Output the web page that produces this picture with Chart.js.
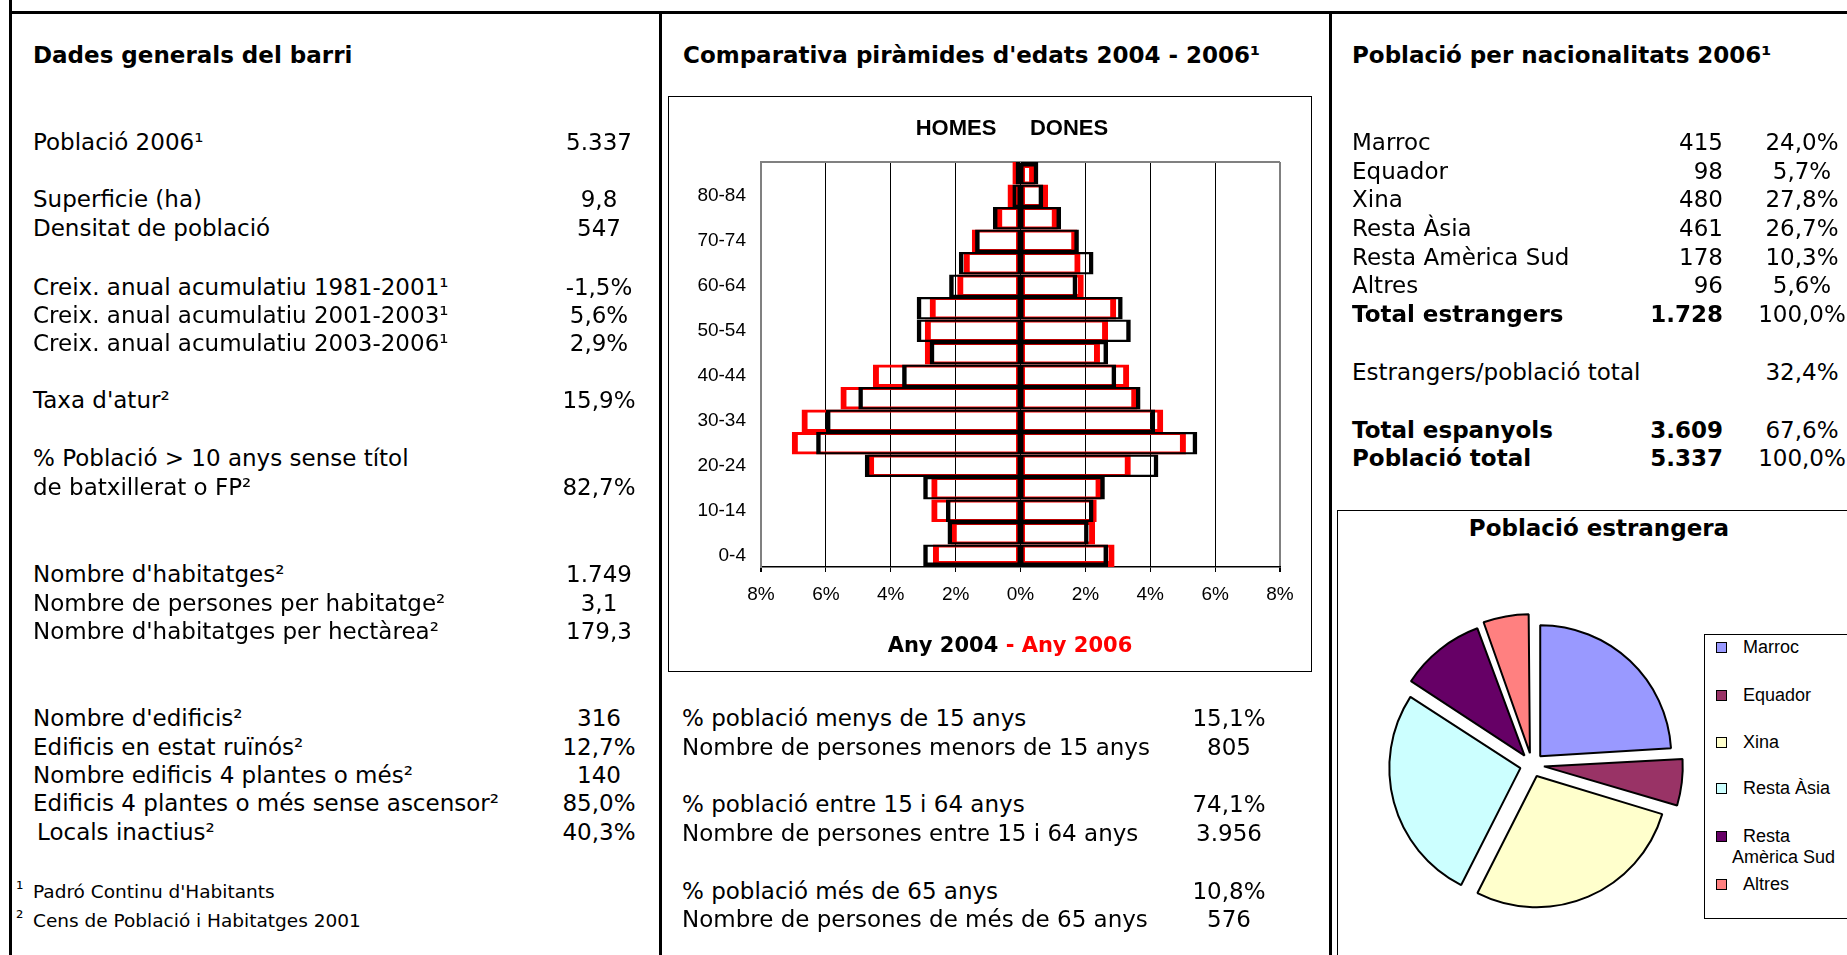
<!DOCTYPE html>
<html>
<head>
<meta charset="utf-8">
<script src="https://cdn.jsdelivr.net/npm/chart.js"></script>
<style>
body { margin:0; width:1847px; height:955px; overflow:hidden; background:#fff; position:relative;
  font-family:"DejaVu Sans", Verdana, sans-serif; font-size:23px; color:#000; }
.ln { position:absolute; background:#000; }
.t { position:absolute; white-space:nowrap; line-height:30px; height:30px; }
.b { font-weight:bold; }
.sm { font-size:18.5px; }
.ar { font-family:"Liberation Sans", Arial, sans-serif; }
.box { position:absolute; border:1px solid #000; background:#fff; box-sizing:border-box; }
canvas { position:absolute; }
</style>
</head>
<body>
<div class="ln" style="left:9px;top:0;width:3px;height:955px"></div>
<div class="ln" style="left:9px;top:11px;width:1838px;height:3px"></div>
<div class="ln" style="left:659px;top:11px;width:3px;height:944px"></div>
<div class="ln" style="left:1329px;top:11px;width:3px;height:944px"></div>

<div class="box" style="left:668px;top:96px;width:644px;height:576px"></div>
<canvas id="pyramid" width="641" height="573" style="left:669px;top:97px"></canvas>

<div class="box" style="left:1337px;top:510px;width:600px;height:500px"></div>
<canvas id="pie" width="320" height="320" style="left:1372px;top:605px"></canvas>
<div class="box" style="left:1704px;top:634px;width:200px;height:285px"></div>

<script>
// Dades generals del barri
var genLabels = ['Població 2006¹', 'Superficie (ha)', 'Densitat de població',
  'Creix. anual acumulatiu 1981-2001¹', 'Creix. anual acumulatiu 2001-2003¹', 'Creix. anual acumulatiu 2003-2006¹',
  "Taxa d'atur²", '% Població > 10 anys sense títol', 'de batxillerat o FP²',
  "Nombre d'habitatges²", 'Nombre de persones per habitatge²', "Nombre d'habitatges per hectàrea²",
  "Nombre d'edificis²", 'Edificis en estat ruïnós²', 'Nombre edificis 4 plantes o més²',
  'Edificis 4 plantes o més sense ascensor²', 'Locals inactius²'];
var genValues = ['5.337', '9,8', '547', '-1,5%', '5,6%', '2,9%', '15,9%', '', '82,7%',
  '1.749', '3,1', '179,3', '316', '12,7%', '140', '85,0%', '40,3%'];
var genY = [142, 199, 228, 287, 315, 343, 400, 458, 487, 574, 603, 631, 718, 747, 775, 803, 832];

// piramide d'edats (% de la poblacio)
var ages = ['0-4','5-9','10-14','15-19','20-24','25-29','30-34','35-39','40-44',
  '45-49','50-54','55-59','60-64','65-69','70-74','75-79','80-84','85+'];
var homes2004 = [3.0, 2.25, 2.3, 3.0, 4.8, 6.3, 6.0, 5.0, 3.65, 2.8, 3.2, 3.2, 2.2, 1.9, 1.4, 0.85, 0.25, 0.15];
var dones2004 = [2.7, 2.1, 2.25, 2.6, 4.25, 5.45, 4.15, 3.7, 2.95, 2.7, 3.4, 3.15, 1.75, 2.25, 1.8, 1.25, 0.7, 0.55];
var homes2006 = [2.7, 2.15, 2.75, 2.75, 4.7, 7.05, 6.75, 5.55, 4.55, 2.95, 2.95, 2.8, 1.95, 1.75, 1.5, 0.75, 0.4, 0.25];
var dones2006 = [2.9, 2.3, 2.35, 2.5, 3.4, 5.1, 4.4, 3.6, 3.35, 2.45, 2.7, 2.95, 1.95, 1.85, 1.75, 1.15, 0.85, 0.45];
var xTicks = [-8, -6, -4, -2, 0, 2, 4, 6, 8];

var ageLabels = ['% població menys de 15 anys', 'Nombre de persones menors de 15 anys',
  '% població entre 15 i 64 anys', 'Nombre de persones entre 15 i 64 anys',
  '% població més de 65 anys', 'Nombre de persones de més de 65 anys'];
var ageValues = ['15,1%', '805', '74,1%', '3.956', '10,8%', '576'];
var ageY = [718, 747, 804, 833, 891, 919];

// nacionalitats
var natNames = ['Marroc', 'Equador', 'Xina', 'Resta Àsia', 'Resta Amèrica Sud', 'Altres'];
var natCounts = [415, 98, 480, 461, 178, 96];
var natPcts = ['24,0%', '5,7%', '27,8%', '26,7%', '10,3%', '5,6%'];
var natColors = ['#9999FF', '#993366', '#FFFFCC', '#CCFFFF', '#660066', '#FF8080'];
var natY = [142, 171, 199, 228, 257, 285];

function put(s, x, y, align, cls) {
  var d = document.createElement('div');
  d.className = 't ' + (cls || '');
  d.textContent = s;
  d.style.top = (y - 15) + 'px';
  if (align === 'c') { d.style.left = (x - 200) + 'px'; d.style.width = '400px'; d.style.textAlign = 'center'; }
  else if (align === 'r') { d.style.left = (x - 400) + 'px'; d.style.width = '400px'; d.style.textAlign = 'right'; }
  else d.style.left = x + 'px';
  document.body.appendChild(d);
  return d;
}

// left panel
put('Dades generals del barri', 33, 55, 'l', 'b');
genLabels.forEach(function (s, i) {
  put(s, i === genLabels.length - 1 ? 37 : 33, genY[i]);
  if (genValues[i]) put(genValues[i], 599, genY[i], 'c');
});
put('¹', 16, 889, 'l', 'sm');
put('Padró Continu d\'Habitants', 33, 892, 'l', 'sm');
put('²', 16, 918, 'l', 'sm');
put('Cens de Població i Habitatges 2001', 33, 921, 'l', 'sm');

// middle panel
put('Comparativa piràmides d\'edats 2004 - 2006¹', 683, 55, 'l', 'b');
ageLabels.forEach(function (s, i) {
  put(s, 682, ageY[i]);
  put(ageValues[i], 1229, ageY[i], 'c');
});
put('HOMES', 956, 128, 'c', 'b ar').style.fontSize = '22px';
put('DONES', 1069, 128, 'c', 'b ar').style.fontSize = '22px';
var sub = put('', 1010, 645, 'c', 'b');
sub.style.fontSize = '21px';
sub.innerHTML = 'Any 2004 <span style="color:#FF0000">- Any 2006</span>';

// right panel
put('Població per nacionalitats 2006¹', 1352, 55, 'l', 'b');
natNames.forEach(function (s, i) {
  put(s, 1352, natY[i]);
  put(String(natCounts[i]), 1723, natY[i], 'r');
  put(natPcts[i], 1802, natY[i], 'c');
});
put('Total estrangers', 1352, 314, 'l', 'b');
put('1.728', 1723, 314, 'r', 'b');
put('100,0%', 1802, 314, 'c');
put('Estrangers/població total', 1352, 372);
put('32,4%', 1802, 372, 'c');
put('Total espanyols', 1352, 430, 'l', 'b');
put('3.609', 1723, 430, 'r', 'b');
put('67,6%', 1802, 430, 'c');
put('Població total', 1352, 458, 'l', 'b');
put('5.337', 1723, 458, 'r', 'b');
put('100,0%', 1802, 458, 'c');
put('Població estrangera', 1599, 528, 'c', 'b');

// legend of the pie
var legY = [648, 696, 743, 789, 837, 885];
natNames.forEach(function (s, i) {
  var m = document.createElement('div');
  m.style.cssText = 'position:absolute;left:1716px;width:9px;height:9px;border:1.5px solid #000;top:' +
    (legY[i] - 6) + 'px;background:' + natColors[i];
  document.body.appendChild(m);
  var d = put('', 1743, legY[i], 'l', 'ar');
  d.style.fontSize = '18px';
  d.style.lineHeight = '21px';
  d.style.top = (legY[i] - 11) + 'px';
  if (s === 'Resta Amèrica Sud') {
    d.innerHTML = 'Resta<br><span style="margin-left:-11px">Amèrica Sud</span>';
  } else {
    d.textContent = s;
  }
});

Chart.defaults.font.family = '"Liberation Sans", Arial, sans-serif';
Chart.defaults.color = '#000';

function bw(outer, inner, zero, side) {
  return function (c) {
    var i = c.dataIndex, last = ages.length - 1;
    var o = { top: i === last ? outer : inner, bottom: i === 0 ? outer : inner };
    if (side < 0) { o.left = outer; o.right = zero; } else { o.left = zero; o.right = outer; }
    return o;
  };
}

var plotTop = {
  id: 'plotTop',
  beforeDatasetsDraw: function (chart) {
    var a = chart.chartArea, c = chart.ctx;
    c.save();
    c.strokeStyle = '#808080';
    c.lineWidth = 2;
    c.beginPath();
    c.moveTo(a.left, a.top);
    c.lineTo(a.right, a.top);
    c.stroke();
    c.restore();
  }
};

function barSet(vals, sign, color, outer, inner, zero) {
  return {
    data: vals.map(function (v) { return sign * v; }),
    backgroundColor: 'rgba(0,0,0,0)',
    borderColor: color,
    borderWidth: bw(outer, inner, zero, sign),
    borderSkipped: false,
    inflateAmount: 0,
    grouped: false,
    categoryPercentage: 1,
    barPercentage: 1
  };
}

new Chart(document.getElementById('pyramid'), {
  type: 'bar',
  data: {
    labels: ages,
    datasets: [
      barSet(homes2004, -1, '#000000', 4.5, 2.25, 2.5),
      barSet(dones2004, 1, '#000000', 4.5, 2.25, 2.5),
      barSet(homes2006, -1, '#FF0000', 6, 3, 4),
      barSet(dones2006, 1, '#FF0000', 6, 3, 4)
    ]
  },
  options: {
    indexAxis: 'y',
    responsive: false,
    animation: false,
    layout: { padding: { top: 65, right: 30, bottom: 63, left: 0 } },
    plugins: { legend: { display: false }, tooltip: { enabled: false } },
    scales: {
      x: {
        min: -8, max: 8,
        afterBuildTicks: function (s) { s.ticks = xTicks.map(function (v) { return { value: v }; }); },
        afterFit: function (s) { s.height = 40; },
        ticks: {
          font: { size: 19 },
          padding: 11,
          callback: function (v) { return Math.abs(v) + '%'; }
        },
        grid: {
          color: function (c) { return (c.tick && Math.abs(c.tick.value) === 8) ? '#808080' : '#000'; },
          lineWidth: function (c) { return (c.tick && Math.abs(c.tick.value) === 8) ? 2 : 1; },
          tickColor: '#000',
          tickLength: 5
        },
        border: { color: '#000', width: 1.5 }
      },
      y: {
        reverse: true,
        afterFit: function (s) { s.width = 92; },
        ticks: {
          autoSkip: false,
          font: { size: 19 },
          padding: 15,
          callback: function (v, i) { return i % 2 === 0 ? ages[i] : ''; }
        },
        grid: { display: false, drawTicks: false },
        border: { color: '#808080', width: 2 }
      }
    }
  },
  plugins: [plotTop]
});

new Chart(document.getElementById('pie'), {
  type: 'pie',
  data: {
    labels: natNames,
    datasets: [{
      data: natCounts,
      backgroundColor: natColors,
      borderColor: '#000',
      borderWidth: 2,
      offset: 48,
      radius: 131
    }]
  },
  options: {
    responsive: false,
    animation: false,
    layout: { padding: 0 },
    plugins: { legend: { display: false }, tooltip: { enabled: false } }
  }
});
</script>
</body>
</html>
